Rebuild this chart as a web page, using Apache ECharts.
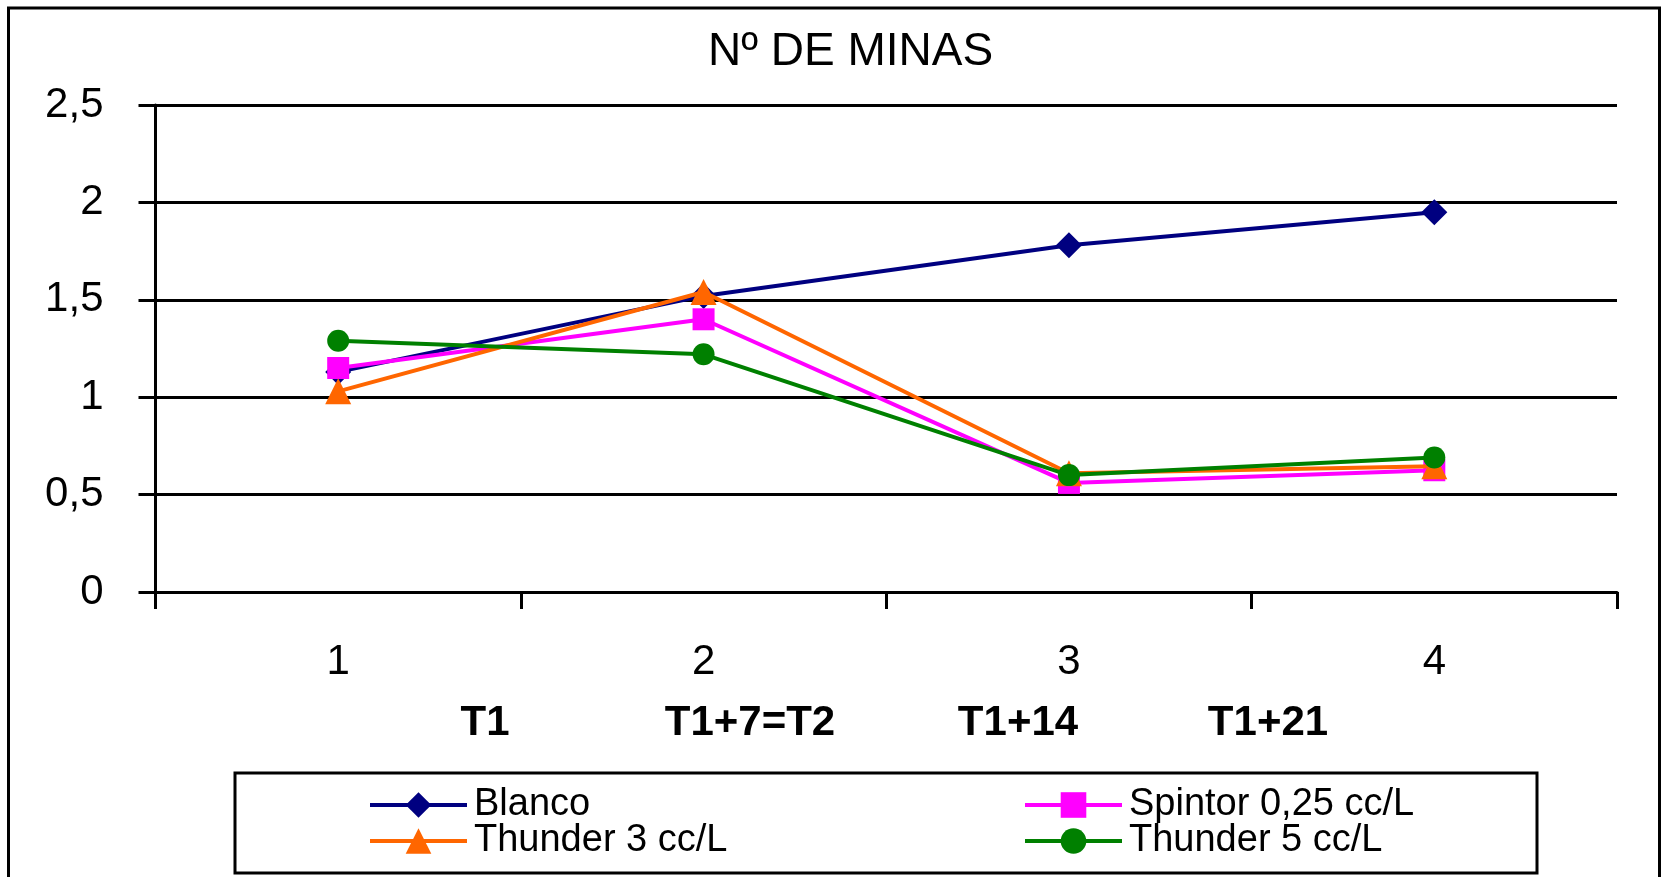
<!DOCTYPE html>
<html>
<head>
<meta charset="utf-8">
<script src="https://cdn.jsdelivr.net/npm/echarts@6/dist/echarts.min.js"></script>
<style>
html,body{margin:0;padding:0;background:#fff;}
#chart{width:1661px;height:877px;}
</style>
</head>
<body>
<div id="chart"></div>
<script>
const categories = ['1', '2', '3', '4'];
const timeLabels = ['T1', 'T1+7=T2', 'T1+14', 'T1+21'];
const timeLabelX = [485, 750, 1018, 1268];
const seriesNames = ['Blanco', 'Spintor 0,25 cc/L', 'Thunder 3 cc/L', 'Thunder 5 cc/L'];
const blanco = [1.13, 1.52, 1.78, 1.95];
const spintor = [1.15, 1.40, 0.56, 0.625];
const thunder3 = [1.03, 1.54, 0.61, 0.645];
const thunder5 = [1.29, 1.22, 0.60, 0.69];
const yMin = 0, yMax = 2.5, yStep = 0.5;

const FONT = 'Liberation Sans, Arial, sans-serif';
const colors = ['#000080', '#FF00FF', '#FF6600', '#008000'];
const symbols = ['diamond', 'rect', 'triangle', 'circle'];
const symbolSizes = [26, 22, 26, 22];
const values = [blanco, spintor, thunder3, thunder5];

const chart = echarts.init(document.getElementById('chart'));

function mkLegend(name, left, top) {
  return {
    data: [name], left: left, top: top, orient: 'horizontal',
    itemWidth: 97, itemHeight: 32, selectedMode: false,
    lineStyle: { width: 4 },
    textStyle: { fontSize: 38, color: '#000', fontFamily: FONT, padding: [0, 0, 0, 2] }
  };
}

const option = {
  animation: false,
  backgroundColor: '#fff',
  title: {
    text: 'Nº DE MINAS', left: 708, top: 29, padding: 0,
    textStyle: { fontSize: 46, fontWeight: 'normal', color: '#000', fontFamily: FONT }
  },
  grid: { left: 155.5, right: 44, top: 105, bottom: 285, containLabel: false },
  legend: [
    mkLegend(seriesNames[0], 363, 781),
    mkLegend(seriesNames[2], 363, 817),
    mkLegend(seriesNames[1], 1018, 781),
    mkLegend(seriesNames[3], 1018, 817)
  ],
  xAxis: {
    type: 'category', data: categories, boundaryGap: true,
    axisLine: { show: true, lineStyle: { color: '#000', width: 3 } },
    axisTick: { show: true, length: 17, lineStyle: { color: '#000', width: 3 } },
    axisLabel: { margin: 49, fontSize: 42, color: '#000', fontFamily: FONT },
    splitLine: { show: false }
  },
  yAxis: {
    type: 'value', min: yMin, max: yMax, interval: yStep,
    axisLine: { show: true, lineStyle: { color: '#000', width: 3 } },
    axisTick: { show: true, length: 17, lineStyle: { color: '#000', width: 3 } },
    axisLabel: { margin: 52, fontSize: 42, color: '#000', fontFamily: FONT,
      formatter: v => String(v).replace('.', ',') },
    splitLine: { show: true, lineStyle: { color: '#000', width: 3 } }
  },
  series: seriesNames.map((n, i) => ({
    name: n, type: 'line', data: values[i],
    symbol: symbols[i], symbolSize: symbolSizes[i],
    itemStyle: { color: colors[i] },
    lineStyle: { color: colors[i], width: 4 },
    z: 3 + i
  })),
  graphic: [
    { type: 'rect', z: -1, silent: true,
      shape: { x: 8.5, y: 8, width: 1651, height: 900 },
      style: { fill: 'none', stroke: '#000', lineWidth: 3 } },
    { type: 'rect', z: -1, silent: true,
      shape: { x: 235, y: 773, width: 1302, height: 100 },
      style: { fill: 'none', stroke: '#000', lineWidth: 3 } }
  ].concat(timeLabels.map((t, i) => ({
    type: 'text', silent: true, x: timeLabelX[i], y: 723.5,
    style: { text: t, textAlign: 'center', textVerticalAlign: 'middle',
      font: 'bold 42px ' + FONT, fill: '#000' }
  })))
};
chart.setOption(option);
</script>
</body>
</html>
